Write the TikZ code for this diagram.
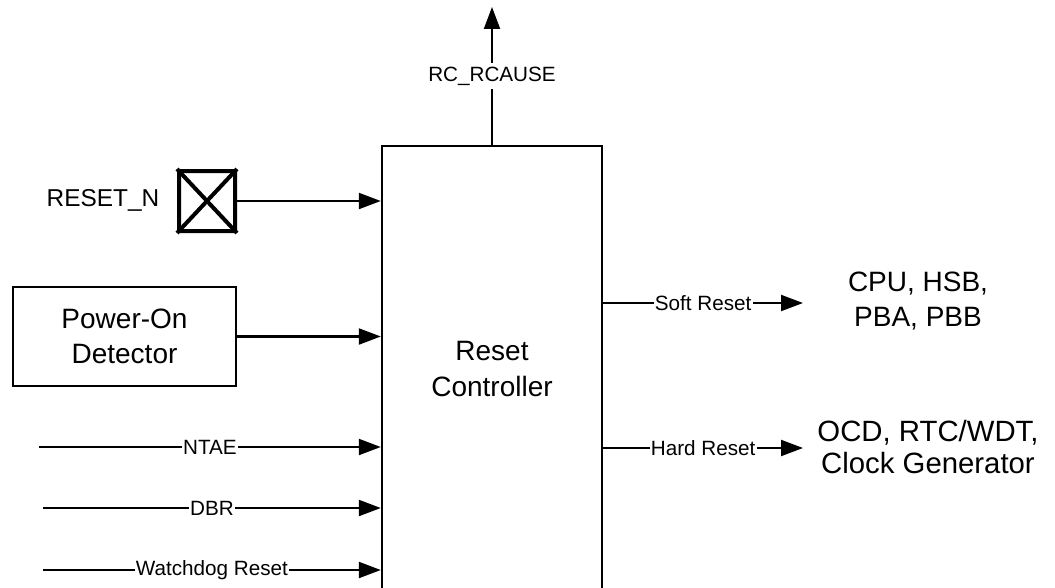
\documentclass[tikz,border=0pt]{standalone}
\usepackage{fontspec}
\setmainfont{Liberation Sans}
\usetikzlibrary{calc,positioning,arrows.meta}

\begin{document}
\begin{tikzpicture}[x=0.75pt,y=-0.75pt,
  blk/.style={draw, line width=1.8pt, align=center, font=\fontsize{21}{26.5}\selectfont},
  sig/.style={line width=1.6pt, -{Triangle[length=16.5pt,width=12pt]}},
  lbl/.style={midway, fill=white, inner sep=1pt, font=\fontsize{15.5}{18}\selectfont},
  dest/.style={align=center, font=\fontsize{21}{26.5}\selectfont}]
  \useasboundingbox (0,0) rectangle (1055,588);

  % reset controller
  \node[blk, minimum width=165pt, minimum height=334.5pt] (ctrl) at (492,369) {Reset\\Controller};

  % inputs
  \node[font=\fontsize{18.3}{22}\selectfont] (rstlbl) at (103,200) {RESET\_N};
  \node[draw, line width=3pt, rounded corners=1pt, minimum width=42pt, minimum height=45pt, inner sep=0pt] (pad) at (207,201) {};
  \draw[line width=3pt] (pad.north west) -- (pad.south east) (pad.north east) -- (pad.south west);
  \draw[sig] (pad.east) -- (pad.east -| ctrl.west);

  \node[blk, minimum width=167pt, minimum height=74pt] (por) at (124.5,336.5) {Power-On\\Detector};
  \draw[sig] (por.east) -- (por.east -| ctrl.west);

  \coordinate (ntae) at (39,447);
  \coordinate (dbr) at (43,508);
  \coordinate (wdt) at (43,570);
  \draw[sig] (ntae) -- (ntae -| ctrl.west) node[lbl] {NTAE};
  \draw[sig] (dbr) -- (dbr -| ctrl.west) node[lbl] {DBR};
  \draw[sig] (wdt) -- (wdt -| ctrl.west) node[lbl] {Watchdog Reset};

  % outputs
  \coordinate (rcause) at (492,7);
  \draw[sig] (ctrl.north) -- (rcause) node[lbl, fill=white, inner sep=3pt] {RC\_RCAUSE};

  \node[dest] (cpu) at (918,301) {CPU, HSB,\\PBA, PBB};
  \node[dest, font=\fontsize{22}{24}\selectfont] (ocd) at (928,447) {OCD, RTC/WDT,\\Clock Generator};
  \coordinate (soft) at (803,303);
  \coordinate (hard) at (803,448);
  \draw[sig] (soft -| ctrl.east) -- (soft) node[lbl] {Soft Reset};
  \draw[sig] (hard -| ctrl.east) -- (hard) node[lbl] {Hard Reset};
\end{tikzpicture}
\end{document}
